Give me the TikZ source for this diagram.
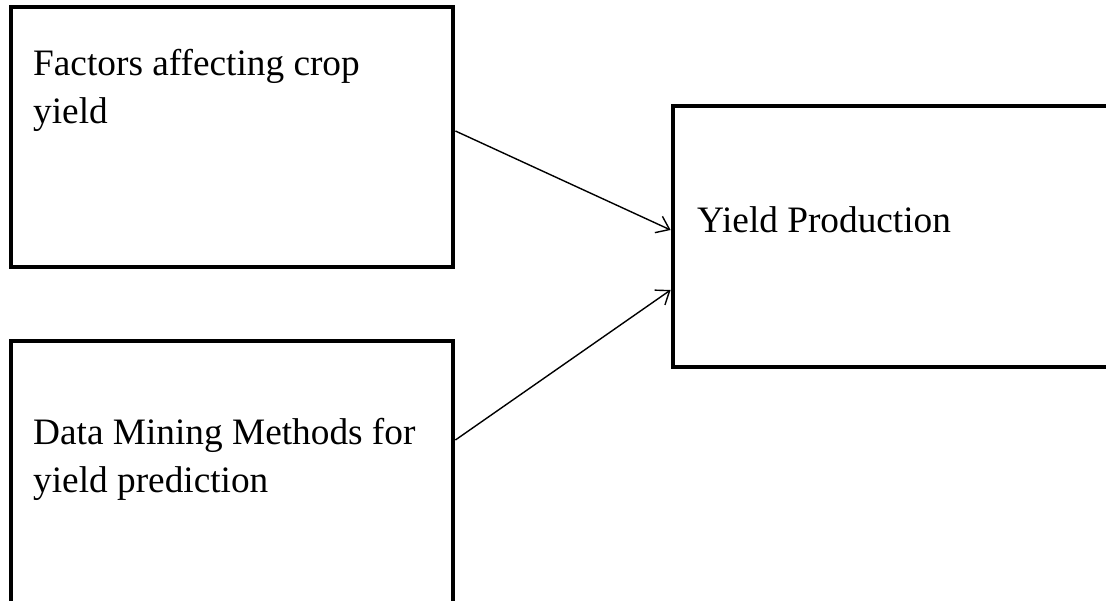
\documentclass[tikz,border=0pt]{standalone}
\usepackage{fontspec}
\setmainfont{Liberation Serif}
\usetikzlibrary{arrows.meta}
\begin{document}
\begin{tikzpicture}[x=1pt,y=1pt,
  box/.style={draw=black, line width=4.8pt, rectangle, inner sep=0pt},
  lbl/.style={anchor=base west, inner sep=0pt, align=left, font=\fontsize{37.3}{48.5}\selectfont},
  arr/.style={line width=1.4pt, -{Straight Barb[length=12pt,width=18pt,line width=1.4pt]}}]
\useasboundingbox (0,0) rectangle (1106,601);
\clip (0,0) rectangle (1106,601);
\fill[white] (0,0) rectangle (1106,601);
\node[box, minimum width=442pt, minimum height=260pt] (b1) at (232,464) {};
\node[box, minimum width=442pt, minimum height=266pt] (b2) at (232,127) {};
\node[box, minimum width=439pt, minimum height=261pt] (b3) at (892.5,364.5) {};
\node[lbl] (t1) at (33,477) {Factors affecting crop\\yield};
\node[lbl] (t2) at (33,108) {Data Mining Methods for\\yield prediction};
\node[lbl] (t3) at (697,368) {Yield Production};
\draw[arr] (b1.east |- 0,470) -- (b3.west |- 0,371);
\draw[arr] (b2.east |- 0,161) -- (b3.west |- 0,311);
\end{tikzpicture}
\end{document}
